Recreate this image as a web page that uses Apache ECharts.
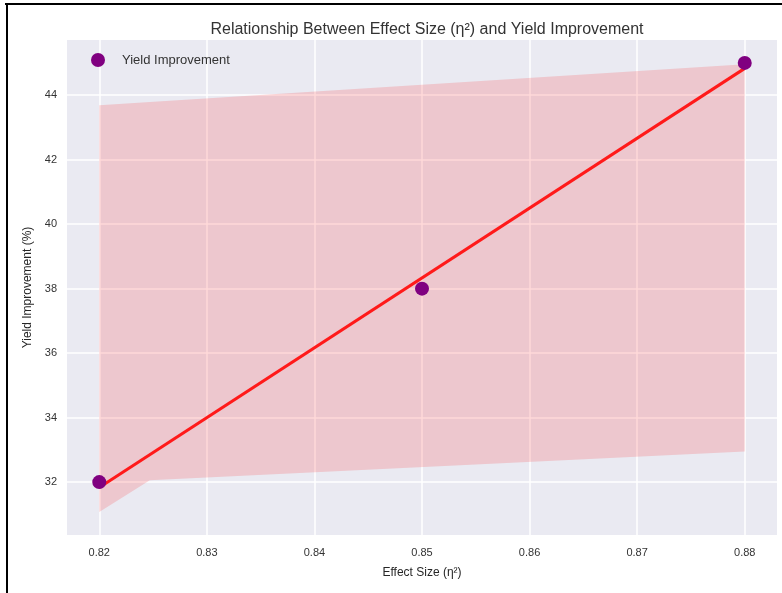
<!DOCTYPE html>
<html>
<head>
<meta charset="utf-8">
<script src="https://cdn.jsdelivr.net/npm/echarts@6/dist/echarts.min.js"></script>
<style>html,body{margin:0;padding:0;background:#fff;}#c{width:782px;height:593px;}</style>
</head>
<body>
<div id="c"></div>
<script>
// Data
var effectSize = [0.82, 0.85, 0.88];
var yieldImprovement = [32, 38, 45];
var fitX = [0.82, 0.88];
var fitY = [31.83, 44.83];
var bandX = [0.82, 0.8247, 0.88];
var bandLower = [31.07, 32.06, 32.95];
var bandUpper = [43.69, 43.79, 44.96];
var xTicks = [0.82, 0.83, 0.84, 0.85, 0.86, 0.87, 0.88];
var yTicks = [32, 34, 36, 38, 40, 42, 44];

var font = 'Liberation Sans, Arial, sans-serif';
var chart = echarts.init(document.getElementById('c'), null, {renderer: 'canvas'});

var scatterData = effectSize.map(function (x, i) { return [x, yieldImprovement[i]]; });
var fitData = fitX.map(function (x, i) { return [x, fitY[i]]; });
var bandData = bandX.map(function (x, i) { return [x, bandLower[i], bandUpper[i]]; });

chart.setOption({
  animation: false,
  backgroundColor: '#ffffff',
  title: {
    text: 'Relationship Between Effect Size (η²) and Yield Improvement',
    left: 422, top: 17, textAlign: 'center',
    textStyle: {fontFamily: font, fontSize: 16, fontWeight: 'normal', color: '#333'}
  },
  legend: {
    left: 86, top: 48, icon: 'circle', itemWidth: 14, itemHeight: 14,
    data: ['Yield Improvement'],
    textStyle: {fontFamily: font, fontSize: 13, color: '#333', padding: [0, 0, 0, 12]}
  },
  graphic: [
    {type: 'rect', shape: {x: 5, y: 3, width: 777, height: 2}, style: {fill: '#000'}, silent: true},
    {type: 'rect', shape: {x: 6, y: 3, width: 2, height: 590}, style: {fill: '#000'}, silent: true}
  ],
  grid: {left: 67, right: 5, top: 40, bottom: 58, show: true, backgroundColor: '#EAEAF2', borderWidth: 0},
  xAxis: {
    type: 'value', min: 0.817, max: 0.883,
    name: 'Effect Size (η²)', nameLocation: 'middle', nameGap: 32,
    nameTextStyle: {fontFamily: font, fontSize: 12, color: '#262626'},
    axisLine: {show: false}, axisTick: {show: false, customValues: xTicks},
    axisLabel: {customValues: xTicks, fontFamily: font, fontSize: 11, color: '#333', margin: 12,
      formatter: function (v) { return v.toFixed(2); }},
    splitLine: {show: true, lineStyle: {color: '#ffffff', width: 1.5}}
  },
  yAxis: {
    type: 'value', min: 30.36, max: 45.71,
    name: 'Yield Improvement (%)', nameLocation: 'middle', nameGap: 30,
    nameTextStyle: {fontFamily: font, fontSize: 12, color: '#262626'},
    axisLine: {show: false}, axisTick: {show: false, customValues: yTicks},
    axisLabel: {customValues: yTicks, fontFamily: font, fontSize: 11, color: '#333', margin: 10,
      formatter: function (v) { return String(Math.round(v)); }},
    splitLine: {show: true, lineStyle: {color: '#ffffff', width: 1.5}}
  },
  series: [
    {
      name: 'band', type: 'custom', data: bandData, silent: true, z: 1,
      encode: {x: 0, y: [1, 2]},
      renderItem: function (params, api) {
        if (params.dataIndex !== 0) { return null; }
        var pts = [];
        var i;
        for (i = 0; i < bandData.length; i++) { pts.push(api.coord([bandData[i][0], bandData[i][2]])); }
        for (i = bandData.length - 1; i >= 0; i--) { pts.push(api.coord([bandData[i][0], bandData[i][1]])); }
        return {type: 'polygon', shape: {points: pts}, style: {fill: 'rgba(255,0,0,0.15)'}};
      }
    },
    {
      name: 'fit', type: 'line', data: fitData, symbol: 'none',
      lineStyle: {color: '#ff1a1a', width: 3}, z: 2
    },
    {
      name: 'Yield Improvement', type: 'scatter', data: scatterData, symbolSize: 14,
      itemStyle: {color: '#800080', opacity: 1}, z: 3
    }
  ]
});
</script>
</body>
</html>
